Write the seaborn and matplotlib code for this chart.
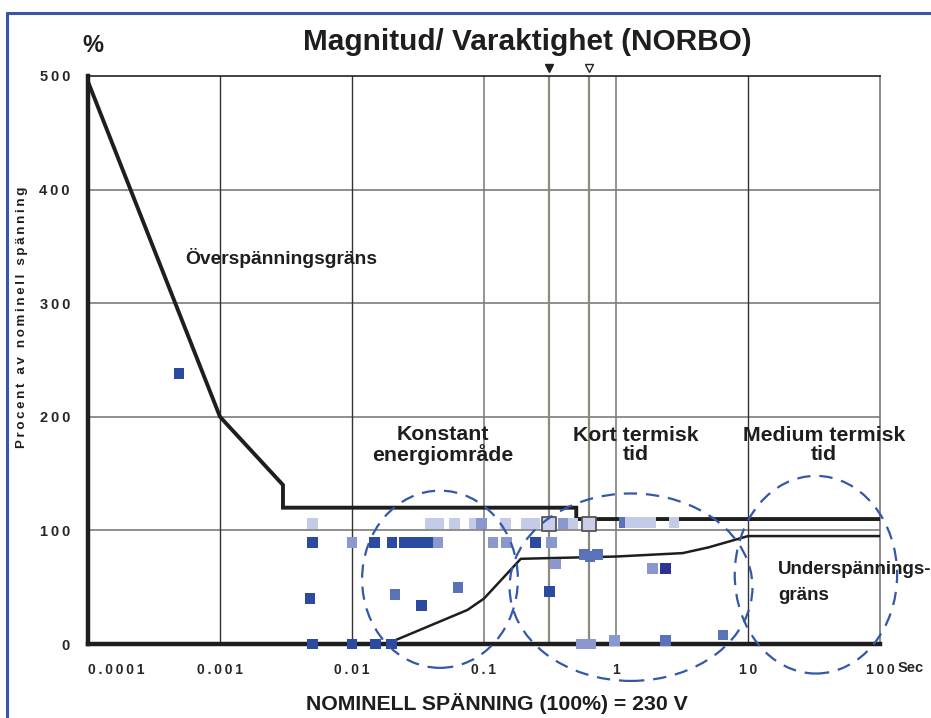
import matplotlib
matplotlib.use("Agg")
import matplotlib.pyplot as plt
import seaborn as sns
import numpy as np
import pandas as pd
from matplotlib.patches import Ellipse
from matplotlib.lines import Line2D

# gränskurvor (sekunder, procent av nominell spänning)
over_x = [0.0001, 0.001, 0.003, 0.003, 0.5, 0.5, 100]
over_y = [495, 200, 140, 120, 120, 110, 110]
under_x = [0.02, 0.075, 0.1, 0.19, 1.0, 3.2, 5.0, 10, 100]
under_y = [2, 30, 40, 75, 77, 80, 85, 95, 95]

# mätpunkter (tid, procent, nyans)
punkt_tid = [0.005, 0.039, 0.045, 0.060, 0.084, 0.0955, 0.146, 0.209, 0.242, 0.40, 0.472,
             1.15, 1.29, 1.44, 1.63, 1.83, 2.75,
             0.005, 0.01, 0.0148, 0.0201, 0.0248, 0.0295, 0.034, 0.0383, 0.0449,
             0.117, 0.148, 0.246, 0.326,
             0.00049, 0.0048, 0.0212, 0.0337, 0.0636, 0.315, 0.349,
             0.58, 0.635, 0.72, 1.88, 2.38, 6.47,
             0.005, 0.01, 0.0150, 0.02, 0.55, 0.64, 0.98, 2.38]
punkt_procent = [106, 106, 106, 106, 106, 106, 106, 106, 106, 106, 106,
                 107, 107, 107, 107, 107, 107,
                 89.5, 89.5, 89.5, 89.5, 89.5, 89.5, 89.5, 89.5, 89.5,
                 89.5, 89.5, 89.5, 89.5,
                 238, 40, 43.7, 33.7, 50, 46, 70.4,
                 79, 77, 79, 66.6, 66.6, 8,
                 0, 0, 0, 0, 0, 0, 3, 3]
punkt_nyans = ["ljus", "ljus", "ljus", "ljus", "ljus", "halvljus", "ljus", "ljus", "ljus", "halvljus", "ljus",
               "mellan", "ljus", "ljus", "ljus", "ljus", "ljus",
               "mork", "halvljus", "mork", "mork", "mork", "mork", "mork", "mork", "halvljus",
               "halvljus", "halvljus", "mork", "halvljus",
               "mork", "mork", "mellan", "mork", "mellan", "mork", "halvljus",
               "mellan", "mellan", "mellan", "halvljus", "marin", "mellan",
               "mork", "mork", "mork", "mork", "halvljus", "halvljus", "halvljus", "mellan"]

# markerade händelser (med ram)
ram_tid = [0.312, 0.624]
ram_procent = [106, 106]

# zoner (centrum i data, bredd i dekader, höjd i procent)
zon_x = [0.0464, 1.30, 32.7]
zon_y = [57, 50, 61]
zon_bredd_dek = [1.18, 1.84, 1.23]
zon_hojd = [156, 165, 174]

x_ticks = [0.0001, 0.001, 0.01, 0.1, 1, 10, 100]
x_labels = ["0.0001", "0.001", "0.01", "0.1", "1", "10", "100"]
y_ticks = [0, 100, 200, 300, 400, 500]

farger = {"mork": "#2c4aa0", "marin": "#2b3591", "mellan": "#5a72b8",
          "halvljus": "#8a98cd", "ljus": "#c4cbe7"}
zonfarg = "#3457a8"


def spaced(s):
    return "\u2009".join(s)


sns.set_style("white")
plt.rcParams["font.family"] = ["Liberation Sans", "DejaVu Sans"]

fig = plt.figure(figsize=(9.31, 7.18), dpi=100)
ax = fig.add_axes([88 / 931, 74 / 718, 792 / 931, 568 / 718])
ax.set_xscale("log")
ax.set_xlim(0.0001, 100)
ax.set_ylim(0, 500)

# rutnät
for v in [100, 200, 300, 400]:
    ax.axhline(v, color="#707070", lw=1.1, zorder=1)
for v in [0.001, 0.01, 10]:
    ax.axvline(v, color="#333333", lw=1.0, zorder=1)
for v in [0.1, 1]:
    ax.axvline(v, color="#777777", lw=1.1, zorder=1)
for v in [0.31, 0.62]:
    ax.axvline(v, color="#8c8c7c", lw=1.6, zorder=1)

ax.plot([0.31], [507], marker="v", color="#222222", ms=6, clip_on=False, ls="none")
ax.plot([0.62], [507], marker="v", mfc="white", mec="#222222", ms=6, mew=1, clip_on=False, ls="none")

# gränser
ax.plot(over_x, over_y, color="#1e1e1e", lw=2.8, zorder=5, solid_joinstyle="miter")
ax.plot(under_x, under_y, color="#1e1e1e", lw=1.8, zorder=5)

# punkter
df = pd.DataFrame({"tid": punkt_tid, "procent": punkt_procent, "nyans": punkt_nyans})
sns.scatterplot(data=df, x="tid", y="procent", hue="nyans", palette=farger, marker="s",
                s=60, linewidth=0, legend=False, ax=ax, zorder=6, clip_on=False)
ax.scatter(ram_tid, ram_procent, marker="s", s=110, facecolor="#c9cfe8",
           edgecolor="#555555", linewidth=1.3, zorder=6)

# zoner
for cx, cy, w, h in zip(zon_x, zon_y, zon_bredd_dek, zon_hojd):
    e = Ellipse(((np.log10(cx) + 4) / 6, cy / 500), w / 6, h / 500,
                transform=ax.transAxes, fill=False, ec=zonfarg, lw=1.6,
                ls=(0, (6, 4)), clip_on=False, zorder=7)
    ax.add_patch(e)

# axlar
for s in ["left", "bottom"]:
    ax.spines[s].set_linewidth(3.2)
    ax.spines[s].set_color("#1e1e1e")
    ax.spines[s].set_zorder(5)
ax.spines["top"].set_linewidth(1.2)
ax.spines["top"].set_color("#222222")
ax.spines["right"].set_linewidth(1.2)
ax.spines["right"].set_color("#777777")

ax.set_xticks(x_ticks)
ax.set_xticklabels([spaced(t) for t in x_labels], fontsize=10, fontweight="bold")
ax.get_xticklabels()[0].set_horizontalalignment("left")
ax.set_xticks([0.0005, 0.005, 0.05, 0.5, 5, 50], minor=True)
ax.set_xticklabels([], minor=True)
ax.set_yticks(y_ticks)
ax.set_yticklabels([spaced(str(t)) for t in y_ticks], fontsize=10.5, fontweight="bold")
ax.set_yticks([50, 150, 250, 350, 450], minor=True)
ax.tick_params(axis="both", which="both", direction="out", color="#222222", width=1.2)
ax.tick_params(axis="x", which="major", length=7, pad=7)
ax.tick_params(axis="x", which="minor", length=6)
ax.tick_params(axis="y", which="major", length=7, pad=6)
ax.tick_params(axis="y", which="minor", length=5)
ax.set_xlabel("")
ax.set_ylabel("")
ax.annotate("Sec", xy=(100, 0), xytext=(13, -22), textcoords="offset points",
            fontsize=10.5, fontweight="bold", ha="left", va="bottom")

# texter i diagrammet
txt = dict(fontweight="bold", color="#1e1e1e")
ax.text(0.00055, 340, "Överspänningsgräns", fontsize=13.9, ha="left", va="center", **txt)
ax.text(0.0489, 175, "Konstant\nenergiområde", fontsize=15.3, ha="center", va="center",
        linespacing=1.0, **txt)
ax.text(1.42, 175, "Kort termisk\ntid", fontsize=15.3, ha="center", va="center",
        linespacing=1.0, **txt)
ax.text(37.7, 175, "Medium termisk\ntid", fontsize=15.3, ha="center", va="center",
        linespacing=1.0, **txt)
ax.text(16.9, 54, "Underspännings-\ngräns", fontsize=13.5, ha="left", va="center",
        linespacing=1.65, **txt)

fig.text(527 / 931, 1 - 42 / 718, "Magnitud/ Varaktighet (NORBO)", ha="center", va="center",
         fontsize=21.4, fontweight="bold", color="#1e1e1e")
fig.text(93 / 931, 1 - 45 / 718, "%", ha="center", va="center", fontsize=17,
         fontweight="bold", color="#1e1e1e")
fig.text(497 / 931, 1 - 703 / 718, "NOMINELL SPÄNNING (100%) = 230 V", ha="center", va="center",
         fontsize=15.3, fontweight="bold", color="#1e1e1e")
fig.text(22 / 931, 1 - 317 / 718, spaced("Procent av nominell spänning"), rotation=90,
         ha="center", va="center", fontsize=9.6, fontweight="bold", color="#1e1e1e")

# ram runt figuren
fig.add_artist(Line2D([7 / 931, 7 / 931], [0, 1 - 13 / 718], color="#3a55a8", lw=2.2,
                      transform=fig.transFigure))
fig.add_artist(Line2D([7 / 931, 1], [1 - 13 / 718, 1 - 13 / 718], color="#3a55a8", lw=2.2,
                      transform=fig.transFigure))

fig.savefig("out.png", dpi=100)
